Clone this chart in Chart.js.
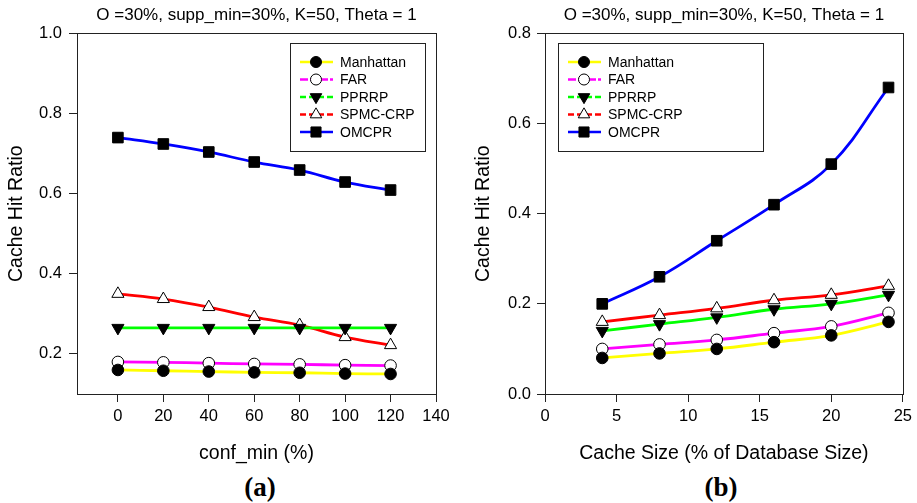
<!DOCTYPE html>
<html>
<head>
<meta charset="utf-8">
<script src="https://cdn.jsdelivr.net/npm/chart.js@4.4.1/dist/chart.umd.min.js"></script>
<style>
body{margin:0;background:#fff;width:917px;height:503px;overflow:hidden;position:relative;}
canvas{position:absolute;top:0;}
#chartA{left:0}
#chartB{left:458px}
.lab{position:absolute;top:472px;font:bold 27px "Liberation Serif","Times New Roman",serif;transform:translateX(-50%);color:#000}
</style>
</head>
<body>
<canvas id="chartA" width="458" height="466"></canvas>
<canvas id="chartB" width="459" height="466"></canvas>
<div class="lab" style="left:260px">(a)</div>
<div class="lab" style="left:721px">(b)</div>
<script>
const seriesNames = ["Manhattan", "FAR", "PPRRP", "SPMC-CRP", "OMCPR"];
const chartTitle = "O =30%, supp_min=30%, K=50, Theta = 1";

// (a) conf_min
const confMin = [0, 20, 40, 60, 80, 100, 120];
const manhattanA = [0.16, 0.158, 0.156, 0.154, 0.153, 0.151, 0.15];
const farA = [0.18, 0.179, 0.177, 0.175, 0.174, 0.172, 0.171];
const pprrpA = [0.265, 0.265, 0.265, 0.265, 0.265, 0.265, 0.265];
const spmcA = [0.35, 0.337, 0.317, 0.292, 0.272, 0.242, 0.222];
const omcprA = [0.74, 0.724, 0.704, 0.679, 0.659, 0.629, 0.609];
const xTicksA = [0, 20, 40, 60, 80, 100, 120, 140];
const yTicksA = [0.2, 0.4, 0.6, 0.8, 1.0];

// (b) cache size
const cacheSize = [4, 8, 12, 16, 20, 24];
const manhattanB = [0.08, 0.09, 0.1, 0.115, 0.13, 0.16];
const farB = [0.1, 0.11, 0.12, 0.135, 0.15, 0.18];
const pprrpB = [0.14, 0.155, 0.17, 0.188, 0.2, 0.22];
const spmcB = [0.16, 0.175, 0.19, 0.208, 0.22, 0.24];
const omcprB = [0.2, 0.26, 0.34, 0.42, 0.51, 0.68];
const xTicksB = [0, 5, 10, 15, 20, 25];
const yTicksB = [0.0, 0.2, 0.4, 0.6, 0.8];

const FONT = '"Liberation Sans", Arial, sans-serif';
const styles = [
  { color: "#ffff00", point: "circle", fill: "#000", r: 5.8, rot: 0, dash: [] },
  { color: "#ff00ff", point: "circle", fill: "#fff", r: 5.8, rot: 0, dash: [8, 2] },
  { color: "#00ff00", point: "triangle", fill: "#000", r: 7, rot: 180, dash: [6, 3] },
  { color: "#ff0000", point: "triangle", fill: "#fff", r: 7, rot: 0, dash: [6, 3] },
  { color: "#0000ff", point: "rect", fill: "#000", r: 7.5, rot: 0, dash: [] },
];

function makeDatasets(xs, lists) {
  return lists.map((ys, i) => ({
    label: seriesNames[i],
    data: xs.map((x, j) => ({ x: x, y: ys[j] })),
    borderColor: styles[i].color,
    borderWidth: 2.8,
    tension: 0.4,
    pointStyle: styles[i].point,
    pointRotation: styles[i].rot,
    pointRadius: styles[i].r,
    pointBackgroundColor: styles[i].fill,
    pointBorderColor: "#000",
    pointBorderWidth: 1,
  }));
}

const frame = {
  id: "frame",
  beforeDatasetsDraw(chart) {
    const { ctx, chartArea: a } = chart;
    ctx.save();
    ctx.strokeStyle = "#222";
    ctx.lineWidth = 1;
    ctx.strokeRect(Math.round(a.left) + 0.5, Math.round(a.top) + 0.5,
      Math.round(a.right - a.left), Math.round(a.bottom - a.top));
    ctx.restore();
  },
};

const legendBox = {
  id: "legendBox",
  afterDraw(chart, args, opts) {
    const { ctx, chartArea: a } = chart;
    const w = opts.width, h = 108;
    const x0 = Math.round(opts.side === "right" ? a.right - opts.inset - w : a.left + opts.inset);
    const y0 = Math.round(a.top + 10);
    ctx.save();
    ctx.fillStyle = "#fff";
    ctx.fillRect(x0, y0, w, h);
    ctx.strokeStyle = "#222";
    ctx.lineWidth = 1;
    ctx.strokeRect(x0 + 0.5, y0 + 0.5, w, h);
    chart.data.datasets.forEach((ds, i) => {
      const y = y0 + 19 + i * 17.5;
      ctx.strokeStyle = styles[i].color;
      ctx.lineWidth = 2.5;
      ctx.setLineDash(styles[i].dash);
      ctx.beginPath();
      ctx.moveTo(x0 + 10, y);
      ctx.lineTo(x0 + 43, y);
      ctx.stroke();
      ctx.setLineDash([]);
      ctx.fillStyle = styles[i].fill;
      ctx.strokeStyle = "#000";
      ctx.lineWidth = 1;
      Chart.helpers.drawPoint(ctx, {
        pointStyle: styles[i].point, radius: styles[i].r * 0.95,
        rotation: styles[i].rot, borderWidth: 1,
      }, x0 + 26, y);
      ctx.fillStyle = "#000";
      ctx.font = "14px " + FONT;
      ctx.textBaseline = "middle";
      ctx.fillText(ds.label, x0 + 50, y + 1);
    });
    ctx.restore();
  },
};

function makeChart(id, cfg) {
  return new Chart(document.getElementById(id), {
    type: "line",
    data: { datasets: makeDatasets(cfg.xs, cfg.lists) },
    options: {
      responsive: false,
      animation: false,
      devicePixelRatio: 1,
      layout: { padding: { right: cfg.padRight, left: 0, bottom: 0, top: 0 } },
      plugins: {
        legend: { display: false },
        tooltip: { enabled: false },
        title: {
          display: true, text: chartTitle, fullSize: false, color: "#000",
          font: { family: FONT, size: 17, weight: "normal" },
          padding: { top: 5, bottom: 8 },
        },
        legendBox: { side: cfg.legendSide, inset: cfg.legendInset, width: cfg.legendWidth },
      },
      scales: {
        x: {
          type: "linear", min: cfg.xMin, max: cfg.xMax,
          afterBuildTicks: s => { s.ticks = cfg.xTicks.map(v => ({ value: v })); },
          afterFit: s => { s.height = 72; },
          grid: { drawOnChartArea: false, drawTicks: true, tickLength: 8, color: "#222" },
          border: { display: false },
          ticks: { color: "#000", padding: 5, font: { family: FONT, size: 16.5 }, maxRotation: 0 },
          title: { display: true, text: cfg.xTitle, color: "#000",
            font: { family: FONT, size: 19.5 }, padding: { top: 0, bottom: 1 } },
        },
        y: {
          type: "linear", min: cfg.yMin, max: cfg.yMax,
          afterBuildTicks: s => { s.ticks = cfg.yTicks.map(v => ({ value: v })); },
          afterFit: s => { s.width = cfg.yWidth; },
          grid: { drawOnChartArea: false, drawTicks: true, tickLength: 8, color: "#222" },
          border: { display: false },
          ticks: { color: "#000", padding: cfg.yPad, font: { family: FONT, size: 16.5 },
            callback: v => v.toFixed(1) },
          title: { display: true, text: "Cache Hit Ratio", color: "#000",
            font: { family: FONT, size: 19.5 }, padding: { top: cfg.yTitlePad, bottom: 0 } },
        },
      },
    },
    plugins: [frame, legendBox],
  });
}

makeChart("chartA", {
  xs: confMin, lists: [manhattanA, farA, pprrpA, spmcA, omcprA],
  xMin: -18, xMax: 140, xTicks: xTicksA, yMin: 0.1, yMax: 1.0, yTicks: yTicksA,
  xTitle: "conf_min (%)", yWidth: 77, yPad: 7, yTitlePad: 5, padRight: 22,
  legendSide: "right", legendInset: 11, legendWidth: 135,
});

makeChart("chartB", {
  xs: cacheSize, lists: [manhattanB, farB, pprrpB, spmcB, omcprB],
  xMin: 0, xMax: 25, xTicks: xTicksB, yMin: 0, yMax: 0.8, yTicks: yTicksB,
  xTitle: "Cache Size (% of Database Size)", yWidth: 87, yPad: 6, yTitlePad: 14, padRight: 13,
  legendSide: "left", legendInset: 13, legendWidth: 205,
});
</script>
</body>
</html>
